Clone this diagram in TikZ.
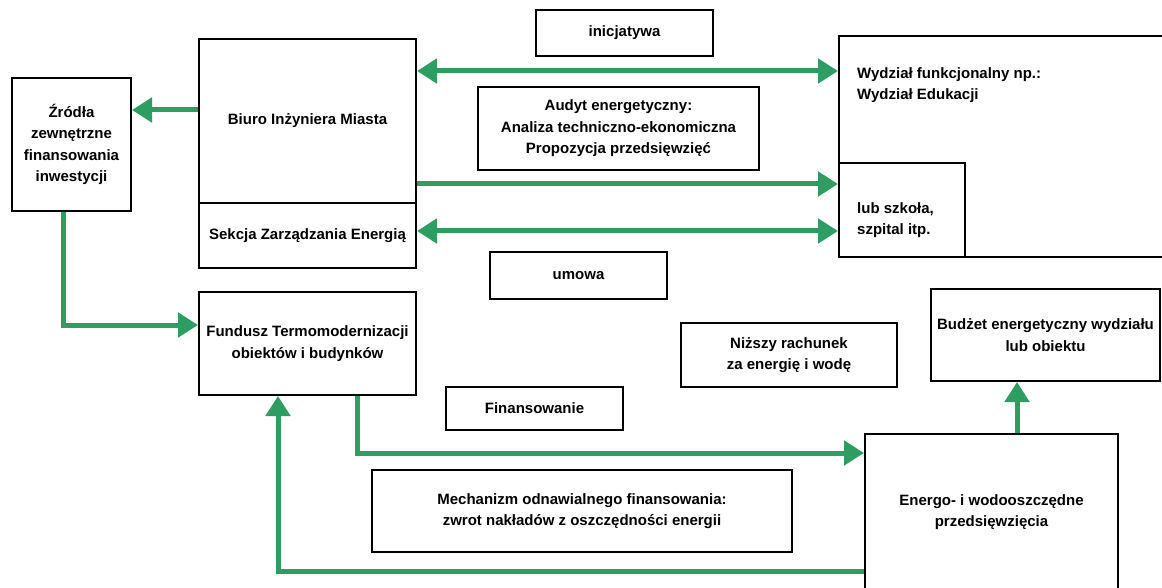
\documentclass[tikz,border=0pt]{standalone}
\usepackage{fontspec}
\setmainfont{Liberation Sans}
\usetikzlibrary{arrows.meta}
\definecolor{grn}{RGB}{46,157,98}
\tikzset{
  box/.style={draw=black, line width=2pt, rectangle, inner sep=0pt, align=center,
    font=\bfseries\fontsize{15}{21.5}\selectfont},
  lbl/.style={inner sep=0pt, align=left, font=\bfseries\fontsize{15}{20.5}\selectfont},
  arr/.style={draw=grn, line width=5pt, -{Triangle[length=20pt,width=24pt]}},
  darr/.style={draw=grn, line width=5pt, {Triangle[length=20pt,width=24pt]}-{Triangle[length=20pt,width=24pt]}}
}
\begin{document}
\begin{tikzpicture}[x=1pt,y=-1pt]
\useasboundingbox (0,0) rectangle (1162,588);
\clip (0,0) rectangle (1162,588);
\fill[white] (0,0) rectangle (1162,588);

\node[box, minimum width=177, minimum height=46] (inicj) at (624.5,33) {inicjatywa};
\node[box, minimum width=217, minimum height=164] (biuro) at (307.5,121) {Biuro Inżyniera Miasta};
\node[box, minimum width=217, minimum height=65] (sekcja) at (307.5,235.5) {Sekcja Zarządzania Energią};
\node[box, minimum width=119, minimum height=133] (zrodla) at (71.5,144.5) {Źródła\\zewnętrzne\\finansowania\\inwestycji};
\node[box, minimum width=281, minimum height=83] (audyt) at (618.5,128.5) {Audyt energetyczny:\\Analiza techniczno-ekonomiczna\\Propozycja przedsięwzięć};
\node[box, minimum width=177, minimum height=47] (umowa) at (578.5,275.5) {umowa};
\node[box, minimum width=336, minimum height=221] (wydz) at (1007,146.5) {};
\node[box, minimum width=126, minimum height=94] (szkola) at (902,210) {};
\node[lbl, anchor=west] (wydzt) at (857,85) {Wydział funkcjonalny np.:\\Wydział Edukacji};
\node[lbl, anchor=west] (szkolat) at (857,220) {lub szkoła,\\szpital itp.};
\node[box, minimum width=217, minimum height=103] (fundusz) at (307.5,343.5) {Fundusz Termomodernizacji\\obiektów i budynków};
\node[box, minimum width=177, minimum height=43] (finans) at (534.5,408.5) {Finansowanie};
\node[box, minimum width=216, minimum height=64] (nizszy) at (789,355) {Niższy rachunek\\za energię i wodę};
\node[box, minimum width=229, minimum height=92] (budzet) at (1045.5,335) {Budżet energetyczny wydziału\\lub obiektu};
\node[box, minimum width=420, minimum height=82] (mech) at (582,511) {Mechanizm odnawialnego finansowania:\\zwrot nakładów z oszczędności energii};
\node[box, minimum width=253, minimum height=156] (energo) at (991.5,512) {Energo- i wodooszczędne\\przedsięwzięcia};

% connectors
\draw[arr] (biuro.west |- 0,110) -- (zrodla.east |- 0,110);
\draw[darr] (biuro.east |- 0,71) -- (wydz.west |- 0,71);
\draw[arr] (biuro.east |- 0,184) -- (wydz.west |- 0,184);
\draw[darr] (sekcja.east |- 0,231) -- (szkola.west |- 0,231);
\draw[arr] (zrodla.south -| 63,0) |- (fundusz.west |- 0,325);
\draw[arr] (fundusz.south -| 357,0) |- (energo.west |- 0,453);
\draw[arr] (energo.west |- 0,571) -| (fundusz.south -| 278,0);
\draw[arr] (energo.north -| 1017,0) -- (budzet.south -| 1017,0);
\end{tikzpicture}
\end{document}
